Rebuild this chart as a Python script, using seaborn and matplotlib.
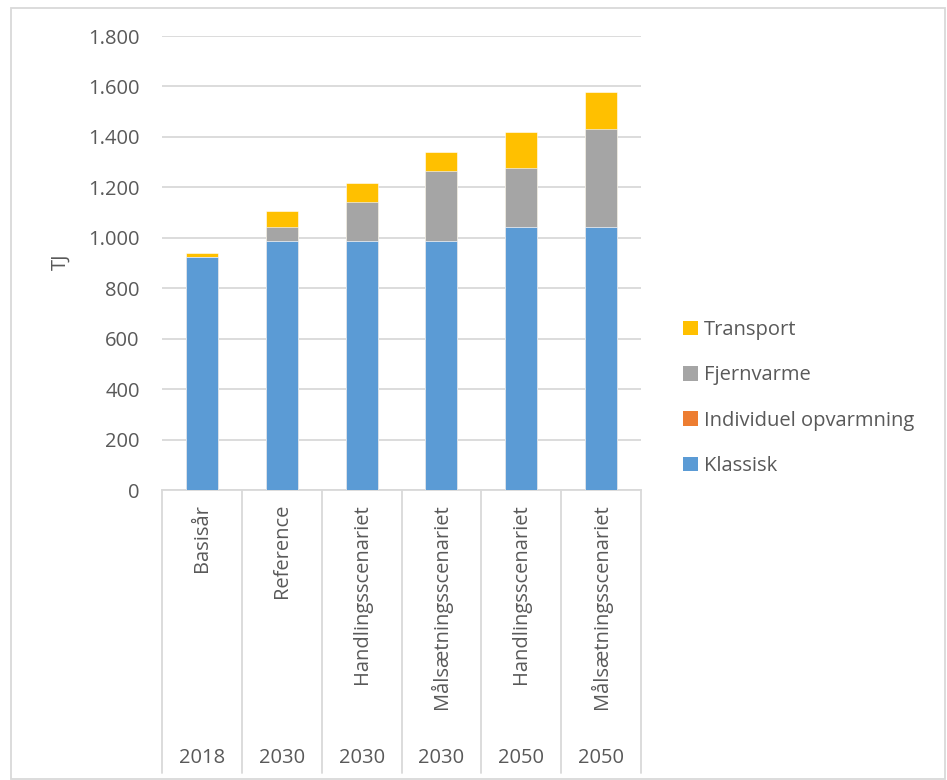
import matplotlib
matplotlib.use("Agg")
import matplotlib.pyplot as plt
import matplotlib.transforms as mtrans
from matplotlib.patches import Patch, Rectangle
import pandas as pd
import seaborn as sns

scenarios = ["Basisår", "Reference", "Handlingsscenariet", "Målsætningsscenariet",
             "Handlingsscenariet", "Målsætningsscenariet"]
years = ["2018", "2030", "2030", "2030", "2050", "2050"]
klassisk = [925, 988, 988, 988, 1044, 1044]
individuel = [0, 0, 0, 0, 0, 0]
fjernvarme = [0, 56, 153, 276, 234, 389]
transport = [15, 61, 77, 76, 143, 146]

series_names = ["Klassisk", "Individuel opvarmning", "Fjernvarme", "Transport"]
series_colors = ["#5B9BD5", "#ED7D31", "#A5A5A5", "#FFC000"]

sns.set_theme(style="white")
plt.rcParams["font.family"] = ["Open Sans", "DejaVu Sans"]
TXT = "#595959"
GRID = "#D9D9D9"

keys = [f"{s}|{y}|{i}" for i, (s, y) in enumerate(zip(scenarios, years))]
df = pd.DataFrame({"key": keys, "Klassisk": klassisk,
                   "Individuel opvarmning": individuel,
                   "Fjernvarme": fjernvarme, "Transport": transport})
cum = df[series_names].cumsum(axis=1)
cum["key"] = df["key"]

W, H = 947, 780
fig = plt.figure(figsize=(W / 100, H / 100), dpi=100)
left, right, bottom, top = 162, 641, 490, 36
ax = fig.add_axes([left / W, 1 - bottom / H, (right - left) / W, (bottom - top) / H])

for name, col in reversed(list(zip(series_names, series_colors))):
    sns.barplot(data=cum, x="key", y=name, order=keys, color=col, width=0.4,
                errorbar=None, ax=ax, saturation=1, edgecolor="white", linewidth=0.4,
                zorder=3)

ax.set_ylim(0, 1800)
ax.set_xlim(-0.5, len(keys) - 0.5)
ax.set_yticks(range(0, 1801, 200))
ax.set_yticklabels([f"{v:,}".replace(",", ".") for v in range(0, 1801, 200)],
                   color=TXT, fontsize=14.5)
ax.yaxis.grid(True, color=GRID, linewidth=1.3, zorder=0)
ax.set_axisbelow(True)
for s in ["top", "right", "left"]:
    ax.spines[s].set_visible(False)
ax.spines["bottom"].set_color(GRID)
ax.spines["bottom"].set_linewidth(1.3)
ax.tick_params(axis="y", length=0, pad=16)
ax.tick_params(axis="x", length=0, pad=10)
ax.set_xticks(range(len(keys)))
ax.set_xticklabels(scenarios, rotation=90, va="top", ha="center", color=TXT, fontsize=14.5)
ax.set_xlabel("")
ax.set_ylabel("TJ", color=TXT, fontsize=14.5, va="center")
ax.yaxis.set_label_coords((61 - left) / (right - left), (bottom - 262) / (bottom - top))

# category divider lines and year labels
trans = mtrans.blended_transform_factory(ax.transData, ax.transAxes)
ybot = -(773 - 490) / (490 - 36)
for i in range(len(keys) + 1):
    ax.plot([i - 0.5, i - 0.5], [0, ybot], transform=trans, color=GRID,
            linewidth=1.3, clip_on=False)
yyear = -(758 - 490) / (490 - 36)
for i, y in enumerate(years):
    ax.text(i, yyear, y, transform=trans, ha="center", va="center",
            color=TXT, fontsize=14.5)

handles = [Patch(facecolor=c, edgecolor="none") for c in series_colors][::-1]
labels = series_names[::-1]
fig.legend(handles, labels, loc="center left", bbox_to_anchor=(675 / W, 1 - 398 / H),
           frameon=False, fontsize=14.5, labelcolor=TXT, handlelength=0.75,
           handleheight=0.75, handletextpad=0.3, labelspacing=1.26, borderaxespad=0)

fig.patches.append(Rectangle((11 / W, 1 / H), (945 - 11) / W, (779 - 8) / H,
                             transform=fig.transFigure, fill=False,
                             edgecolor=GRID, linewidth=1.3))

fig.savefig("out.png", dpi=100)
